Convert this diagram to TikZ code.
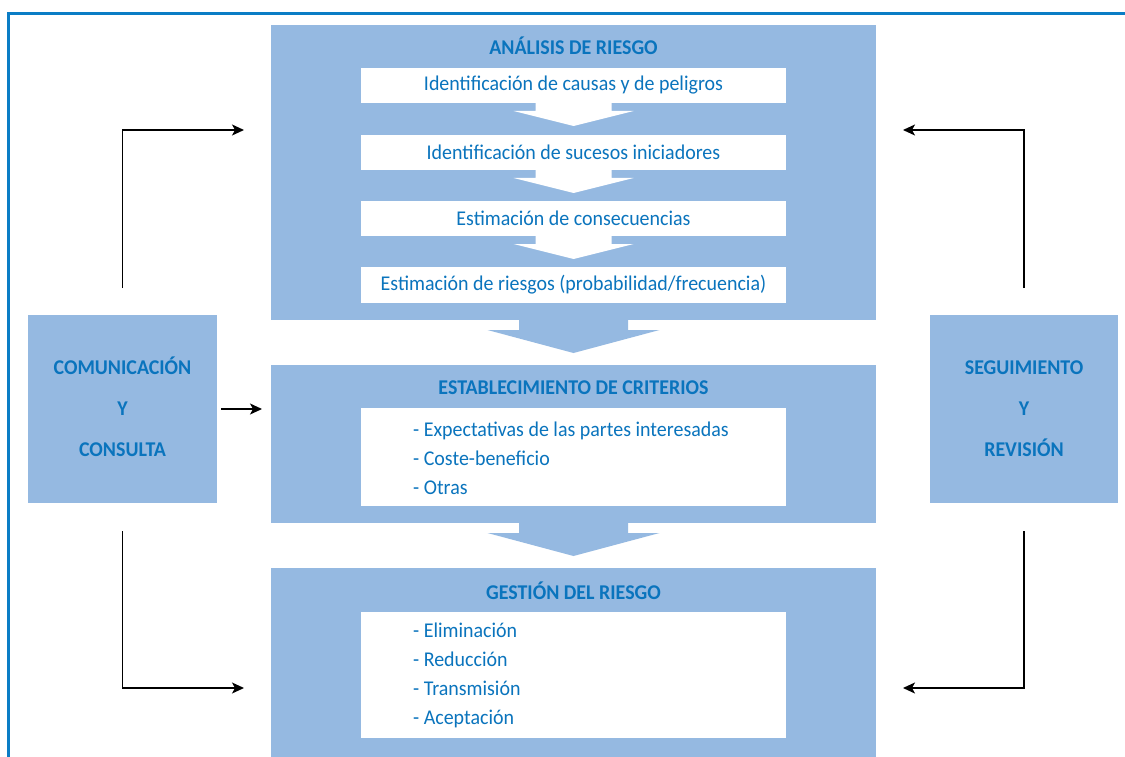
\documentclass[tikz,border=0pt]{standalone}
\usepackage{fontspec}
\setmainfont[FakeStretch=0.95]{Carlito}
\usetikzlibrary{calc,arrows.meta}

\definecolor{cajaazul}{HTML}{95B9E1}
\definecolor{textoazul}{HTML}{0A74BD}
\definecolor{marcoazul}{HTML}{0B7DC5}

\tikzset{
  caja/.style={fill=cajaazul, inner sep=0pt, outer sep=0pt},
  blanca/.style={fill=white, inner sep=0pt, outer sep=0pt, minimum width=425pt},
  titulo/.style={text=textoazul, font=\fontsize{21}{24}\selectfont\bfseries},
  texto/.style={text=textoazul, font=\fontsize{21}{24}\selectfont},
  lista/.style={text=textoazul, align=left, inner sep=0pt,
    font=\fontsize{21}{29}\selectfont},
  conector/.style={line width=1.3pt, -{Stealth[length=12pt,width=11pt,inset=3pt]}},
}

\begin{document}
\begin{tikzpicture}[x=1pt, y=-1pt]
	\useasboundingbox (0,0) rectangle (1125,757);
	\fill[white] (0,0) rectangle (1125,757);
	% marco
	\draw[marcoazul, line width=2.7pt] (8.7,760) -- (8.7,13.6) -- (1128,13.6);

	% cajas principales
	\node[caja, minimum width=605pt, minimum height=295pt] (anal) at (573.5,172.5) {};
	\node[caja, minimum width=605pt, minimum height=158pt] (crit) at (573.5,444) {};
	\node[caja, minimum width=605pt, minimum height=190pt] (gest) at (573.5,663) {};
	\node[caja, minimum width=189pt, minimum height=188pt] (comun) at (122.5,409) {};
	\node[caja, minimum width=188pt, minimum height=188pt] (segui) at (1024,409) {};

	% flechas de bloque
	\foreach \a/\b in {anal/crit, crit/gest}{
		\fill[cajaazul] ($(\a.south)+(-54.5,0)$) -- ++(0,10) -- ++(-31.5,0)
			-- ($(\b.north)+(0,-12)$) -- ($(\a.south)+(86,10)$) -- ++(-31.5,0)
			-- ++(0,-10) -- cycle;
	}

	% titulos
	\node[titulo] (tanal) at (573.5,46) {ANÁLISIS DE RIESGO};
	\node[titulo] (tcrit) at (573.5,388) {ESTABLECIMIENTO DE CRITERIOS};
	\node[titulo] (tgest) at (573.5,591) {GESTIÓN DEL RIESGO};

	% pasos del analisis
	\node[blanca, minimum height=35pt, texto] (paso1) at (573.5,85.5) {Identificación de causas y de peligros};
	\node[blanca, minimum height=35pt, texto] (paso2) at (573.5,152.5) {Identificación de sucesos iniciadores};
	\node[blanca, minimum height=35pt, texto] (paso3) at (573.5,218.5) {Estimación de consecuencias};
	\node[blanca, minimum height=36pt, texto] (paso4) at (573.5,285) {Estimación de riesgos (probabilidad/frecuencia)};
	\foreach \a in {1,2,3}{
		\fill[white] ($(paso\a.south)+(-38,0)$) -- ++(0,8) -- ++(-22,0)
			-- ($(paso\a.south)+(0,23)$) -- ($(paso\a.south)+(60,8)$) -- ++(-22,0)
			-- ++(0,-8) -- cycle;
	}

	% listas
	\node[blanca, minimum height=98pt] (bcrit) at (573.5,457) {};
	\node[lista, anchor=west] (lcrit) at (413,458) {- Expectativas de las partes interesadas\\- Coste-beneficio\\- Otras};
	\node[blanca, minimum height=126pt] (bgest) at (573.5,675) {};
	\node[lista, anchor=west] (lgest) at (413,675) {- Eliminación\\- Reducción\\- Transmisión\\- Aceptación};

	% cajas laterales
	\node[titulo, align=center, font=\fontsize{21}{41}\selectfont\bfseries] (tcomun) at ([yshift=2pt]comun) {COMUNICACIÓN\\Y\\CONSULTA};
	\node[titulo, align=center, font=\fontsize{21}{41}\selectfont\bfseries] (tsegui) at (segui) {SEGUIMIENTO\\Y\\REVISIÓN};

	% conectores
	\coordinate (e1) at (244,130);
	\coordinate (e2) at (262,409);
	\coordinate (e3) at (244,688);
	\coordinate (e4) at (903,130);
	\coordinate (e5) at (903,688);
	\draw[conector] ([yshift=27pt]comun.north) |- (e1);
	\draw[conector] ([xshift=4pt]comun.east) -- (e2);
	\draw[conector] ([yshift=-28pt]comun.south) |- (e3);
	\draw[conector] ([yshift=27pt]segui.north) |- (e4);
	\draw[conector] ([yshift=-28pt]segui.south) |- (e5);
\end{tikzpicture}
\end{document}
